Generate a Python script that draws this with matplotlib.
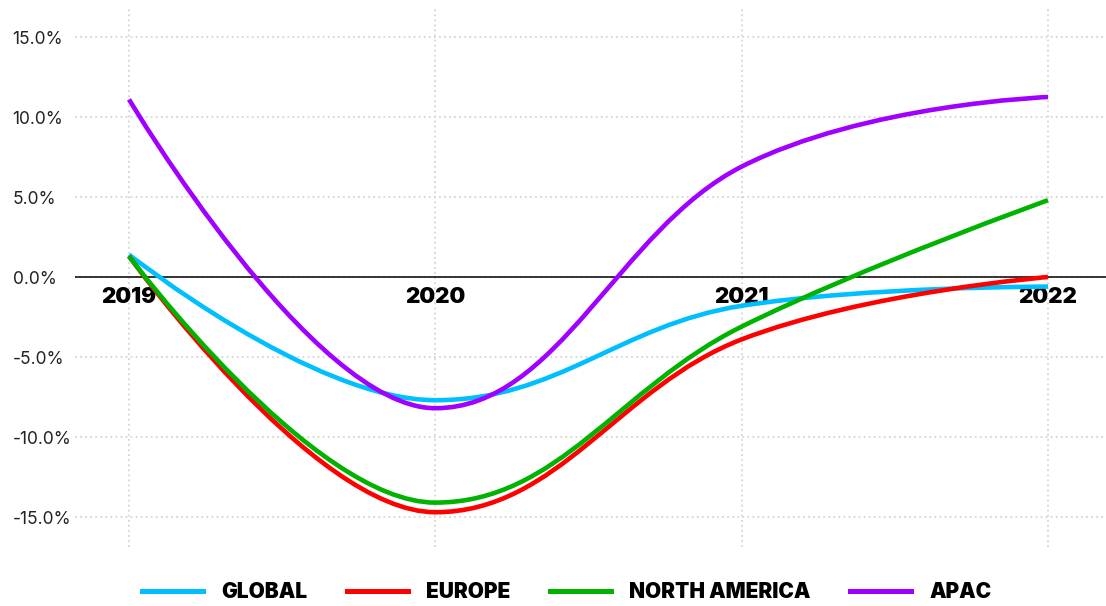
import numpy as np
import matplotlib
matplotlib.use("Agg")
import matplotlib.pyplot as plt
from matplotlib.path import Path
from matplotlib.patches import PathPatch

# data (% change)
years = [2019, 2020, 2021, 2022]
global_vals = [1.4, -7.7, -1.8, -0.6]
europe_vals = [1.3, -14.7, -3.9, 0.0]
north_america_vals = [1.3, -14.1, -3.1, 4.8]
apac_vals = [11.1, -8.2, 6.9, 11.25]

series_names = ["GLOBAL", "EUROPE", "NORTH AMERICA", "APAC"]
series_colors = ["#00bfff", "#ff0000", "#00b300", "#a000ff"]
y_ticks = [15, 10, 5, 0, -5, -10, -15]


# smooth "spline" path: bezier control points with smoothing 1.5,
# flattened at local extremes, none at the two end points
def spline_path(xs, ys):
    n = len(xs)
    left = [None] * n
    right = [None] * n
    sm = 1.5
    for i in range(1, n - 1):
        lx = (sm * xs[i] + xs[i - 1]) / (sm + 1)
        ly = (sm * ys[i] + ys[i - 1]) / (sm + 1)
        rx = (sm * xs[i] + xs[i + 1]) / (sm + 1)
        ry = (sm * ys[i] + ys[i + 1]) / (sm + 1)
        corr = (ry - ly) * (rx - xs[i]) / (rx - lx) + ys[i] - ry
        ly += corr
        ry += corr
        if ly > ys[i - 1] and ly > ys[i]:
            ly = max(ys[i - 1], ys[i]); ry = 2 * ys[i] - ly
        elif ly < ys[i - 1] and ly < ys[i]:
            ly = min(ys[i - 1], ys[i]); ry = 2 * ys[i] - ly
        if ry > ys[i + 1] and ry > ys[i]:
            ry = max(ys[i + 1], ys[i]); ly = 2 * ys[i] - ry
        elif ry < ys[i + 1] and ry < ys[i]:
            ry = min(ys[i + 1], ys[i]); ly = 2 * ys[i] - ry
        left[i] = (lx, ly)
        right[i] = (rx, ry)
    verts = [(xs[0], ys[0])]
    codes = [Path.MOVETO]
    for i in range(1, n):
        c1 = right[i - 1] or (xs[i - 1], ys[i - 1])
        c2 = left[i] or (xs[i], ys[i])
        verts += [c1, c2, (xs[i], ys[i])]
        codes += [Path.CURVE4] * 3
    return Path(verts, codes)


plt.rcParams["font.family"] = ["Inter", "DejaVu Sans"]

W, H = 1106, 606
fig = plt.figure(figsize=(W / 100, H / 100), dpi=100)
ax = fig.add_axes([75 / W, (H - 547) / H, (W - 75) / W, (547 - 8) / H])

ax.set_xlim(2019 - 54 / 306.33, 2022 + 58 / 306.33)
ax.set_ylim(-15 - 30 / 16, 15 + 29 / 16)

for name, vals, color in zip(series_names,
                             [global_vals, europe_vals, north_america_vals, apac_vals],
                             series_colors):
    patch = PathPatch(spline_path(years, vals), facecolor="none", edgecolor=color,
                      lw=3.3, zorder=3, capstyle="butt")
    ax.add_patch(patch)
    # empty line only for the legend entry
    ax.plot([], [], color=color, lw=3.6, label=name)

ax.axhline(0, color="black", lw=1.1, zorder=2)

for yr in years:
    ax.text(yr, -1.28, str(yr), ha="center", va="center", fontsize=16,
            fontweight=900, color="black", zorder=2.5)

ax.set_yticks(y_ticks)
ax.set_yticklabels([f"{v:.1f}%" for v in y_ticks], fontsize=12.5, color="#222222",
                   ha="left")
ax.set_xticks(years)
ax.set_xticklabels([])
ax.tick_params(length=0)
ax.tick_params(axis="y", pad=45)
ax.grid(True, color="#d6d6d6", lw=1.3, linestyle=(0, (1, 1.8)))
ax.set_axisbelow(True)
for sp in ax.spines.values():
    sp.set_visible(False)

leg = fig.legend(loc="center", bbox_to_anchor=(567 / W, 1 - 592 / H), ncol=4,
                 frameon=False, handlelength=2.9, handletextpad=0.9,
                 columnspacing=1.9, prop={"weight": 900, "size": 15})

fig.savefig("out.png", dpi=100)
